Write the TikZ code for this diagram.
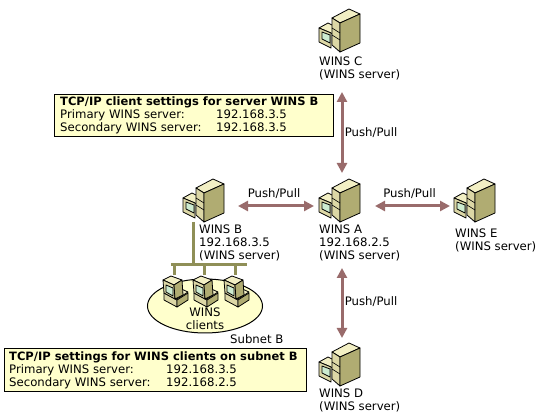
\documentclass[tikz,border=0pt]{standalone}
\usepackage{fontspec}
\setmainfont{DejaVu Sans}
\usetikzlibrary{arrows.meta,shapes.geometric}
\definecolor{boxYellow}{HTML}{FFFFCC}
\definecolor{pushBrown}{HTML}{996B6B}
\definecolor{busOlive}{HTML}{8F8F57}
\definecolor{caseLight}{HTML}{F2EFC4}
\definecolor{caseMid}{HTML}{DCD7A6}
\definecolor{caseDark}{HTML}{B0AC72}
\definecolor{screenGreen}{HTML}{CDEBD0}
\begin{document}
\begin{tikzpicture}
[x=1pt,y=-1pt,font=\fontsize{11.7}{13}\selectfont,
  lineDecorate/.style={<->,>={Triangle[length=10pt,width=10pt]},line width=3pt,pushBrown},%
  busDecorate/.style={-,line width=3pt,busOlive},%
  nodeDecorate/.style={shape=rectangle,minimum width=54pt,minimum height=62pt,inner sep=0pt,outer sep=0pt},%
  clientDecorate/.style={shape=rectangle,minimum width=24pt,minimum height=30pt,inner sep=0pt,outer sep=0pt},%
  textDecorate/.style={anchor=north west,align=left,inner sep=0pt},%
  noteDecorate/.style={shape=rectangle,anchor=north west,draw,line width=1.2pt,fill=boxYellow,inner sep=0pt},%
  iconLine/.style={draw=black,line width=0.8pt,line join=round},%
  serverIcon/.pic={
    \path[iconLine,fill=caseLight] (-23,-8) -- (-14,-13) -- (-8,-10) -- (-8,-1) -- (-11,-3) -- cycle;
    \path[iconLine,fill=caseMid] (-23,-8) -- (-11,-3) -- (-11,12) -- (-23,6) -- cycle;
    \path[iconLine,fill=screenGreen] (-20,-4) -- (-12,-1) -- (-12,7) -- (-20,3) -- cycle;
    \path[iconLine,fill=caseLight] (-10,-18) -- (7,-27) -- (18,-22) -- (-2,-13) -- cycle;
    \path[iconLine,fill=caseMid] (-10,-18) -- (-2,-13) -- (-2,16) -- (-10,9) -- cycle;
    \path[iconLine,fill=caseDark] (-2,-13) -- (18,-22) -- (18,7) -- (-2,16) -- cycle;
    \draw[line width=0.6pt] (-10,-8) -- (-2,-3) (-10,-1) -- (-2,4);
  },
  clientIcon/.pic={
    \path[iconLine,fill=caseLight] (-10,3) -- (3,9) -- (14,2) -- (3,-3) -- cycle;
    \path[iconLine,fill=caseMid] (-10,3) -- (3,10) -- (3,17) -- (-10,10) -- cycle;
    \path[iconLine,fill=caseDark] (3,10) -- (14,3) -- (14,10) -- (3,17) -- cycle;
    \path[iconLine,fill=caseLight] (-11,-10) -- (-3,-14) -- (8,-10) -- (0,-5) -- cycle;
    \path[iconLine,fill=caseMid] (-11,-10) -- (0,-5) -- (1,9) -- (-10,3) -- cycle;
    \path[iconLine,fill=caseDark] (0,-5) -- (8,-10) -- (9,5) -- (1,9) -- cycle;
    \path[iconLine,fill=screenGreen] (-8,-5) -- (-1,-2) -- (-1,6) -- (-8,2) -- cycle;
  }]
\useasboundingbox (0,0) rectangle (544,419);
%% subnet ellipse
\node (subnetB) at (205,306) [shape=ellipse,draw,line width=1pt,fill=boxYellow,minimum width=115pt,minimum height=54pt,inner sep=0pt] {};
%% server nodes or vertices
\foreach \nodename/\x/\y in {WinsA/342/206, WinsB/206/206, WinsC/342/36, WinsD/342/370, WinsE/477/206}
{
  \node (\nodename) at (\x,\y) [nodeDecorate] {};
  \pic at (\nodename) {serverIcon};
}
%% client nodes
\foreach \nodename/\x in {clientA/174, clientB/204, clientC/235}
{
  \node (\nodename) at (\x,290) [clientDecorate] {};
  \pic at (\nodename) {clientIcon};
}
%% server labels
\node (labelC) at (319,57) [textDecorate] {WINS C\\(WINS server)};
\node (labelB) at (199,224.5) [textDecorate] {WINS B\\192.168.3.5\\(WINS server)};
\node (labelA) at (319,224.5) [textDecorate] {WINS A\\192.168.2.5\\(WINS server)};
\node (labelE) at (455,229) [textDecorate] {WINS E\\(WINS server)};
\node (labelD) at (319,389) [textDecorate] {WINS D\\(WINS server)};
\node (labelClients) at (205,318.5) [align=center,inner sep=0pt] {WINS\\clients};
\node (labelSubnet) at (230,334) [textDecorate] {Subnet B};
%% settings boxes
\node (noteServer) at (54,94) [noteDecorate,minimum width=279pt,minimum height=42pt] {};
\node (noteServerText) at (60,96.5) [textDecorate] {{\fontsize{11.5}{13}\selectfont\textbf{TCP/IP client settings for server WINS B}}\\
  \makebox[156pt][l]{Primary WINS server:}192.168.3.5\\
  \makebox[156pt][l]{Secondary WINS server:}192.168.3.5};
\node (noteClient) at (4,348) [noteDecorate,minimum width=302pt,minimum height=43pt] {};
\node (noteClientText) at (9,351.5) [textDecorate] {{\fontsize{11.5}{13}\selectfont\textbf{TCP/IP settings for WINS clients on subnet B}}\\
  \makebox[157pt][l]{Primary WINS server:}192.168.3.5\\
  \makebox[157pt][l]{Secondary WINS server:}192.168.2.5};
%% bus lines
\coordinate (busWest) at (171,265);
\coordinate (busEast) at (247,265);
\coordinate (tapB) at (193,222);
\draw[busDecorate] (busWest) -- (busEast);
\draw[busDecorate] (tapB) -- (tapB |- busWest);
\foreach \nodename in {clientA, clientB, clientC}
{
  \draw[busDecorate] (\nodename.north |- busWest) -- (\nodename.north);
}
%% edges or lines
\foreach \startnode/\endnode/\startcut/\endcut/\side/\gap/\where in {WinsC.south/WinsA.north/25/2/right/-2/0.61, WinsA.west/WinsB.east/1/5/above/3/0.5, WinsA.east/WinsE.west/6/0/above/3/0.5, WinsA.south/WinsD.north/31/1/right/-2/0.63}
{
  \draw[lineDecorate,shorten <=\startcut pt,shorten >=\endcut pt] (\startnode) -- node[pos=\where,\side=\gap pt,black] {Push/Pull} (\endnode);
}
\end{tikzpicture}
\end{document}
